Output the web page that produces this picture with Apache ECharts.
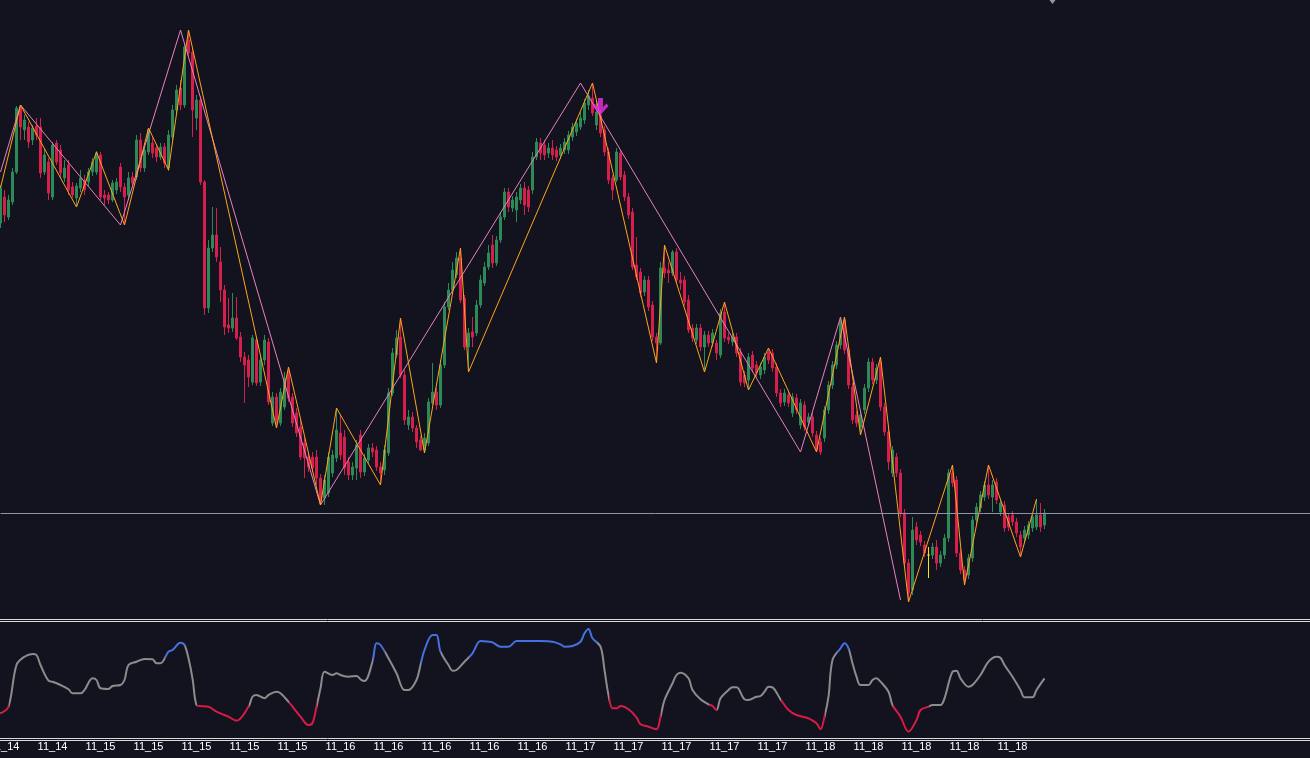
<!DOCTYPE html>
<html><head><meta charset="utf-8">
<script src="https://cdn.jsdelivr.net/npm/echarts@6/dist/echarts.min.js"></script>
<style>html,body{margin:0;padding:0;background:#13121f;overflow:hidden}#c{width:1310px;height:758px}</style>
</head><body><div id="c"></div>
<script>
// ---------- DATA ----------
const tickLabels = ['11_14','11_14','11_15','11_15','11_15','11_15','11_15','11_16','11_16','11_16','11_16','11_16','11_17','11_17','11_17','11_17','11_17','11_18','11_18','11_18','11_18','11_18'];
const opens = [397,423,403,418,448,512,490,493,480,494,
493,448,458,423,477,470,442,455,433,422,
432,440,438,448,448,465,425,425,420,430,
453,433,425,443,443,480,452,468,477,472,
463,473,452,483,510,532,515,580,568,502,
520,438,312,372,385,358,330,295,292,302,
283,263,260,238,280,238,260,278,197,223,
197,213,248,223,207,193,177,163,163,163,
142,122,127,147,162,187,183,158,145,152,
185,148,160,172,170,153,150,167,227,265,
283,245,195,203,192,180,170,177,217,228,
215,255,313,330,345,362,322,273,288,287,
315,337,353,375,357,380,403,428,412,410,
420,432,430,430,463,477,475,467,472,470,
465,470,470,483,488,493,500,515,522,495,
505,490,468,442,440,467,445,423,408,355,
348,328,340,315,283,277,352,350,347,368,
340,340,320,292,280,292,273,285,277,277,
265,308,283,278,283,268,245,240,265,255,
245,250,268,267,253,227,218,225,207,222,
195,215,198,203,185,178,182,210,235,255,
275,300,270,233,205,193,210,232,258,240,
258,213,188,147,163,147,107,57,30,93,
85,75,65,65,73,57,65,82,147,140,
67,50,45,62,100,112,123,135,123,138,
108,115,103,105,98,85,82,85,92,93,
105,95];
const closes = [432,405,420,448,512,493,500,478,492,485,
447,465,427,475,458,447,452,430,425,434,
442,430,448,458,467,423,422,420,437,438,
433,423,442,437,480,452,470,490,467,463,
473,457,485,510,530,515,573,567,510,520,
438,312,372,385,363,330,293,292,302,282,
263,255,243,282,237,260,280,218,223,197,
228,242,222,197,187,163,162,153,152,142,
120,140,163,165,190,165,152,145,153,175,
148,162,172,168,153,147,170,227,267,282,
245,200,203,192,178,170,182,218,228,215,
255,313,330,350,362,320,273,287,283,315,
340,353,367,357,380,403,428,413,420,423,
432,415,413,463,478,467,465,472,465,463,
472,478,485,493,497,502,517,524,507,508,
487,468,440,430,468,443,423,405,353,343,
327,340,313,283,277,352,347,347,368,340,
337,318,290,282,292,273,285,277,287,267,
307,282,280,283,267,238,237,263,252,247,
253,263,260,252,227,217,227,217,223,210,
217,193,203,187,170,168,210,235,255,275,
298,270,235,200,197,205,232,258,240,252,
213,188,158,170,147,107,57,27,90,80,
78,67,65,73,57,65,82,147,137,67,
50,40,62,100,113,125,135,125,135,120,
117,92,93,98,87,73,90,95,103,105,
93,107];
const lows = [392,398,400,415,446,480,480,472,475,480,
442,445,420,420,455,442,438,425,422,413,
428,425,434,444,445,420,415,416,418,426,
428,395,420,432,440,448,448,465,462,458,
460,452,449,480,507,510,512,564,483,490,
435,305,307,368,358,318,285,287,288,280,
258,217,233,235,234,234,255,215,194,192,
194,210,218,193,183,160,142,148,148,135,
115,115,123,143,158,160,145,140,140,140,
142,144,156,163,149,135,145,164,224,262,
242,195,190,188,172,169,167,174,215,210,
212,252,310,328,342,317,270,248,273,284,
312,334,350,352,354,377,400,408,408,398,
416,405,408,426,460,460,460,462,460,459,
461,466,466,479,484,490,496,510,504,490,
483,464,436,420,438,440,419,401,350,340,
323,324,309,279,257,275,342,337,344,336,
330,314,287,278,276,269,248,273,273,260,
262,278,276,274,263,234,233,230,248,243,
241,246,256,248,223,213,214,213,203,206,
191,189,194,183,168,165,178,206,231,251,
271,266,231,196,193,185,206,228,236,236,
209,184,150,143,143,103,53,18,25,75,
74,63,42,61,50,53,61,78,133,63,
46,35,41,58,96,108,119,121,108,116,
104,88,89,94,83,63,78,81,88,90,
88,91];
const highs = [435,430,425,452,514,515,505,498,495,502,
502,472,462,478,480,475,460,460,438,437,
450,445,452,462,469,468,430,428,440,442,
457,437,448,448,485,487,474,492,482,476,
477,477,490,515,535,540,577,590,572,525,
524,440,380,413,412,373,335,322,327,323,
288,268,265,285,283,264,285,282,228,227,
232,248,253,227,212,200,182,168,168,170,
146,145,168,170,212,205,190,163,158,180,
190,166,176,177,174,158,175,232,272,290,
302,250,210,208,195,184,187,222,257,232,
260,318,337,358,368,372,325,292,303,320,
345,358,375,385,384,408,432,432,424,428,
436,438,434,468,482,482,480,477,480,474,
476,482,489,497,501,508,521,530,537,520,
510,494,472,445,472,470,449,427,412,383,
352,344,344,319,287,358,375,358,370,372,
348,344,325,296,296,296,289,289,291,280,
311,318,287,287,287,272,249,267,269,259,
257,267,272,271,257,231,231,229,227,226,
221,219,207,207,189,182,214,239,259,279,
303,303,274,237,209,209,236,262,262,256,
263,217,195,174,167,151,111,61,103,98,
89,79,73,77,80,69,86,151,155,144,
71,54,66,104,117,129,139,155,140,142,
121,119,107,109,102,89,94,99,107,121,
117,111];
const highlightCandle = 232;
const orangeIdx = [0,5,19,24,31,37,42,47,69,72,80,84,95,100,106,115,117,148,164,166,176,181,187,192,204,211,215,220,227,238,241,247,255,259];
const orangeVal = [432,515,413,468,395,492,450,590,192,253,115,212,135,302,167,372,248,537,257,375,248,318,230,272,168,303,185,263,18,155,35,155,63,121];
const pinkIdx = [0,5,30,45,80,145,200,210,225];
const pinkVal = [448,515,395,590,115,537,168,303,20];
const levelValue = 107;
const arrowPoint = [150, 513.5];
const topMarker = [263, 619];
const oscIdx = [0,2,4,6,8,9,10,12,13,15,17,18,20,21,23,24,25,27,28,30,31,32,34,36,38,39,40,42,43,45,46,47,48,49,50,52,54,56,57,59,62,63,64,66,67,69,70,72,73,75,77,78,79,80,81,83,84,85,87,89,90,91,93,94,95,97,99,101,102,104,105,106,108,109,110,112,113,114,116,118,120,122,123,125,127,129,130,
135,138,140,141,143,145,146,147,148,150,151,152,153,154,155,157,159,160,162,164,165,166,168,169,170,172,173,175,177,178,179,180,182,183,184,186,187,189,190,191,192,193,195,197,199,202,204,205,206,207,208,210,211,212,213,214,215,217,218,219,220,222,223,225,227,229,230,232,233,235,236,238,239,240,242,243,245,247,249,250,251,253,255,256,258,259,261];
const oscVal = [23.7,30.3,72,80.3,83,82,72,56.3,55.3,52,47.7,43.7,43.7,47,58.7,57,48.7,48,51,52,57,72,75.3,78,77.7,73.7,73.7,85.3,87,94.3,92,78.7,58.7,32,31,30.3,25.3,22,20.3,16.3,30.3,40.3,42,38.7,42,45.3,43.7,35.3,30.3,20.3,12,14,30.3,48.7,65.3,62,63.7,62,60.3,61,57.7,56,75.3,93.7,92,78.7,63.7,47,47,57,72,87,102,102,85.3,72,66.3,67,75.3,83.7,96,95.3,94.7,90.3,90.3,96,96,
96,95.3,92.7,90.3,91,95.3,103.7,108,98.7,90.3,67,42,28.7,28.7,31,27.7,19.7,12.7,10.3,7.7,20.3,37,53.7,62,64.3,58.7,47,37.7,32.7,31,27,38.7,47,49.7,49.7,37.7,37,40.3,41,45.3,50.3,49.7,37.7,27,22,18.7,13.7,7.7,20.3,40.3,77,88.7,93.7,88.7,73.7,60.3,52,52,57,58.7,55.3,45.3,32,20.3,5.3,17,27,30.3,32,32,38.7,65.3,66.3,58.7,50.3,52,62,75.3,80.3,79.3,72,60.3,47,39.7,39.7,47,58.7];
const redRanges = [[0,2],[49,62],[72,79],[152,165],[177,179],[195,205.5],[223,232]];
const blueRanges = [[41,45.7],[92.5,96],[105.4,110],[117,148.8],[208.8,212]];

// ---------- BUILD ----------
const NCAT = 329;
const categories = Array.from({length: NCAT}, (_, i) => String(i));
const GREEN = '#2c8a56', RED = '#d61f4c', YEL = '#f5e51a';
const candleData = opens.map((o, i) => {
  const v = [o, closes[i], lows[i], highs[i]];
  if (i === highlightCandle) return {value: v, itemStyle: {color: YEL, color0: YEL, borderColor: YEL, borderColor0: YEL, borderColorDoji: YEL}};
  return v;
});
const pieces = [];
redRanges.forEach(r => pieces.push({gte: r[0], lte: r[1], color: '#d81b45'}));
blueRanges.forEach(r => pieces.push({gte: r[0], lte: r[1], color: '#4470e0'}));
pieces.sort((a, b) => a.gte - b.gte);

const chart = echarts.init(document.getElementById('c'), null, {renderer: 'canvas'});
const hiddenCat = {type: 'category', data: categories, boundaryGap: false, axisLine: {show: false}, axisTick: {show: false}, splitLine: {show: false}};
chart.setOption({
  backgroundColor: '#13121f',
  animation: false,
  grid: [
    {left: 0.5, top: 0, width: 1312, height: 620, outerBoundsMode: 'none'},
    {left: 0.5, top: 622, width: 1312, height: 115, outerBoundsMode: 'none'}
  ],
  xAxis: [
    Object.assign({}, hiddenCat, {gridIndex: 0, axisLabel: {show: false}}),
    Object.assign({}, hiddenCat, {gridIndex: 1, axisLabel: {
      show: true, color: '#ffffff', fontSize: 11, fontFamily: 'Liberation Sans', margin: 4,
      interval: (i) => i % 12 === 1 && i <= 253,
      formatter: (v, i) => tickLabels[(i - 1) / 12] || ''
    }})
  ],
  yAxis: [
    {type: 'value', gridIndex: 0, min: 0, max: 620, show: false, splitLine: {show: false}},
    {type: 'value', gridIndex: 1, min: 0, max: 115, show: false, splitLine: {show: false}}
  ],
  visualMap: [{type: 'piecewise', show: false, seriesIndex: 5, dimension: 0, pieces: pieces, outOfRange: {color: '#8c8c8c'}}],
  series: [
    {type: 'candlestick', xAxisIndex: 0, yAxisIndex: 0, data: candleData, barWidth: 2,
     itemStyle: {color: GREEN, color0: RED, borderColor: GREEN, borderColor0: RED, borderWidth: 1},
     markLine: {silent: true, symbol: 'none', label: {show: false}, lineStyle: {color: '#8d93a8', width: 1, type: 'solid'}, data: [{yAxis: levelValue}]}},
    {type: 'line', xAxisIndex: 0, yAxisIndex: 0, data: orangeIdx.map((k, i) => [k, orangeVal[i]]), symbol: 'none', lineStyle: {color: '#ffa51a', width: 1}, z: 4},
    {type: 'line', xAxisIndex: 0, yAxisIndex: 0, data: pinkIdx.map((k, i) => [k, pinkVal[i]]), symbol: 'none', lineStyle: {color: '#e882c0', width: 1}, z: 3},
    {type: 'scatter', xAxisIndex: 0, yAxisIndex: 0, data: [arrowPoint], symbol: 'path://M5.5,0 H10.5 V9 L14,5.5 L16,8 L8,17 L0,8 L2,5.5 L5.5,9 Z', symbolSize: [16, 17], itemStyle: {color: '#f02ee6'}, z: 6},
    {type: 'scatter', xAxisIndex: 0, yAxisIndex: 0, data: [topMarker], symbol: 'path://M0,0 L8,0 L4,5 Z', symbolSize: [9, 6], itemStyle: {color: '#b4b8c4'}, z: 6},
    {type: 'line', xAxisIndex: 1, yAxisIndex: 1, data: oscIdx.map((k, i) => [k, oscVal[i]]), symbol: 'none', smooth: 0.35, lineStyle: {width: 2}}
  ],
  graphic: [
    {type: 'line', shape: {x1: 0, y1: 619.5, x2: 1310, y2: 619.5}, style: {stroke: '#dcdcdc', lineWidth: 1}, silent: true},
    {type: 'line', shape: {x1: 0, y1: 621.5, x2: 1310, y2: 621.5}, style: {stroke: '#dcdcdc', lineWidth: 1}, silent: true},
    {type: 'line', shape: {x1: 0, y1: 738.5, x2: 1310, y2: 738.5}, style: {stroke: '#dcdcdc', lineWidth: 1}, silent: true},
    {type: 'line', shape: {x1: 0, y1: 740.5, x2: 1310, y2: 740.5}, style: {stroke: '#dcdcdc', lineWidth: 1}, silent: true}
  ]
});
</script>
</body></html>
